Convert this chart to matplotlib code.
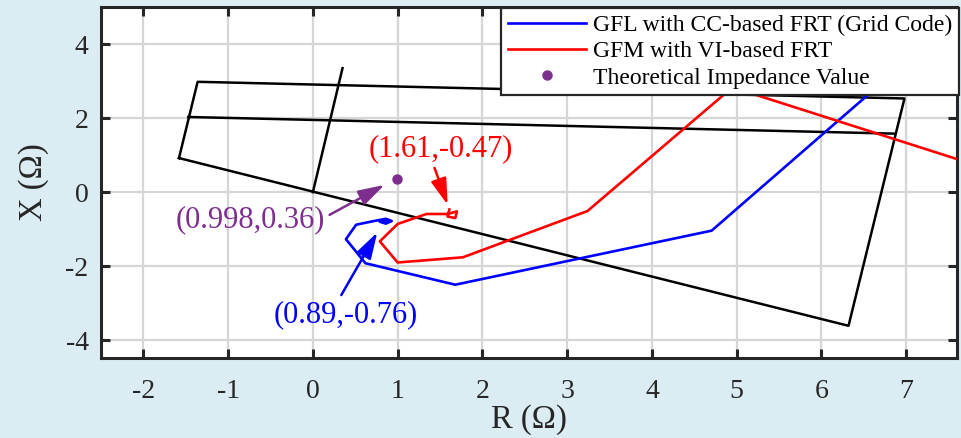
import matplotlib
matplotlib.use("Agg")
import matplotlib.pyplot as plt

plt.rcParams["font.family"] = ["Liberation Serif", "DejaVu Serif"]
plt.rcParams["axes.unicode_minus"] = False

# Distance-relay characteristic (quadrilateral zones)
zone_outer_R = [-1.58, -1.36, 6.98, 6.32, -1.58]
zone_outer_X = [0.92, 2.98, 2.53, -3.61, 0.92]
zone_reach_R = [-1.47, 6.86]
zone_reach_X = [2.03, 1.58]
line_angle_R = [0.0, 0.35]
line_angle_X = [0.0, 3.35]

# Apparent impedance trajectory, GFL with CC-based FRT
gfl_R = [7.30, 4.705, 1.68, 0.62, 0.39, 0.51, 0.72, 0.86, 0.93, 0.86, 0.79, 0.89]
gfl_X = [4.12, -1.04, -2.50, -1.92, -1.27, -0.88, -0.78, -0.72, -0.78, -0.85, -0.80, -0.76]

# Apparent impedance trajectory, GFM with VI-based FRT
gfm_R = [8.60, 7.59, 4.95, 3.24, 1.77, 1.00, 0.79, 1.00, 1.34, 1.59, 1.70, 1.68, 1.59, 1.61]
gfm_X = [0.16, 0.90, 2.83, -0.51, -1.76, -1.90, -1.33, -0.86, -0.59, -0.59, -0.52, -0.70, -0.66, -0.47]

# Theoretical fault impedance
theory_R = [0.998]
theory_X = [0.36]

x_ticks = [-2, -1, 0, 1, 2, 3, 4, 5, 6, 7]
y_ticks = [-4, -2, 0, 2, 4]

legend_labels = ["GFL with CC-based FRT (Grid Code)",
                 "GFM with VI-based FRT",
                 "Theoretical Impedance Value"]

BLUE = "#0000ff"
RED = "#ff0000"
PURPLE = "#7e2f8e"
DARK = "#262626"

fig = plt.figure(figsize=(9.62, 4.38), dpi=100, facecolor="#dbedf3")
ax = fig.add_axes([0.105, 0.1826, 0.8898, 0.8014])
ax.set_facecolor("white")

ax.plot(zone_outer_R, zone_outer_X, color="black", lw=1.8, zorder=3)
ax.plot(zone_reach_R, zone_reach_X, color="black", lw=1.8, zorder=3)
ax.plot(line_angle_R, line_angle_X, color="black", lw=1.8, zorder=3)

h_gfl, = ax.plot(gfl_R, gfl_X, color=BLUE, lw=1.9, zorder=4)
h_gfm, = ax.plot(gfm_R, gfm_X, color=RED, lw=1.9, zorder=4)
h_th, = ax.plot(theory_R, theory_X, "o", color=PURPLE, ms=6.5, mec=PURPLE, zorder=5)

ax.set_xlim(-2.5, 7.6)
ax.set_ylim(-4.48, 5.0)
ax.set_xticks(x_ticks)
ax.set_yticks(y_ticks)
ax.set_xticklabels([str(v) for v in x_ticks])
ax.set_yticklabels([str(v) for v in y_ticks])

ax.grid(True, color="#d6d6d6", lw=1.6, zorder=0)
ax.set_axisbelow(True)
for sp in ax.spines.values():
    sp.set_color(DARK)
    sp.set_linewidth(2.2)
ax.tick_params(direction="in", length=6.5, width=2.2, color=DARK,
               top=True, right=True, labelsize=20, labelcolor=DARK)
ax.tick_params(axis="x", pad=15)
ax.tick_params(axis="y", pad=9)

ax.set_xlabel("R (Ω)", fontsize=23.5, color=DARK, labelpad=0)
ax.set_ylabel("X (Ω)", fontsize=23.5, color=DARK, labelpad=12)

leg = ax.legend([h_gfl, h_gfm, h_th], legend_labels, loc="upper right",
                bbox_to_anchor=(1.002, 0.997), borderaxespad=0, fontsize=17,
                frameon=True, fancybox=False, framealpha=1, edgecolor=DARK,
                handlelength=3.3, handletextpad=0.3, labelspacing=0.2,
                borderpad=0.28)
leg.get_frame().set_linewidth(1.6)
leg.set_zorder(10)

arrow_kw = dict(arrowstyle="-|>,head_length=0.8,head_width=0.24",
                mutation_scale=20, lw=1.8, shrinkA=0, shrinkB=0)

ax.text(1.508, 1.17, "(1.61,-0.47)", color=RED, fontsize=22,
        ha="center", va="center", zorder=6)
ax.annotate("", xy=(1.59, -0.343), xytext=(1.435, 0.657),
            arrowprops=dict(color=RED, **arrow_kw), zorder=6)

ax.text(-0.735, -0.75, "(0.998,0.36)", color=PURPLE, fontsize=22,
        ha="center", va="center", zorder=6)
ax.annotate("", xy=(0.845, 0.197), xytext=(0.197, -0.614),
            arrowprops=dict(color=PURPLE, **arrow_kw), zorder=6)

ax.text(0.385, -3.32, "(0.89,-0.76)", color=BLUE, fontsize=22,
        ha="center", va="center", zorder=6)
ax.annotate("", xy=(0.76, -1.087), xytext=(0.335, -2.78),
            arrowprops=dict(color=BLUE, **arrow_kw), zorder=6)

fig.savefig("out.png", dpi=100, facecolor=fig.get_facecolor())
